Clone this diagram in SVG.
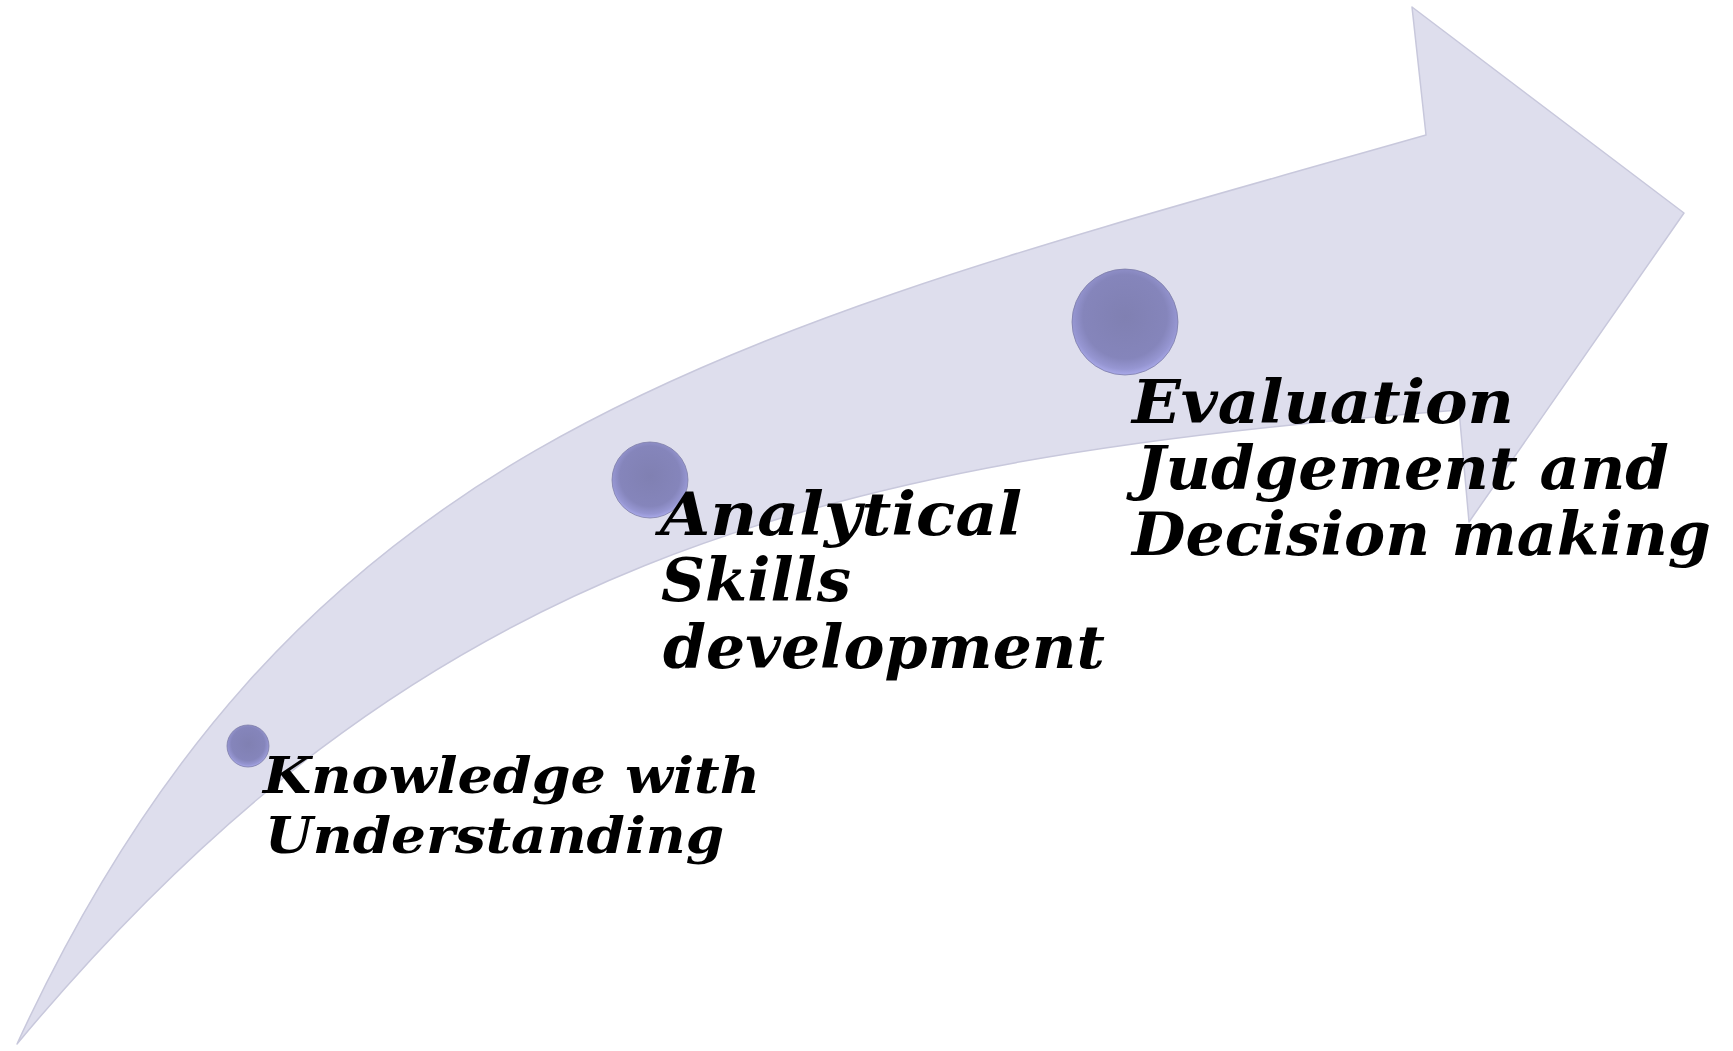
<svg xmlns="http://www.w3.org/2000/svg" width="1733" height="1051" viewBox="0 0 1733 1051">
<defs>
<radialGradient id="ball" cx="50%" cy="45%" r="55%">
<stop offset="0" stop-color="#8080b2"/>
<stop offset="0.72" stop-color="#8585bb"/>
<stop offset="0.9" stop-color="#9696d2"/>
<stop offset="1" stop-color="#aaaaea"/>
</radialGradient>
<style>
.band{fill:#dedeed;stroke:#c8c8dc;stroke-width:1.5;stroke-linejoin:round}
.ball{fill:url(#ball);stroke:#7a7aa4;stroke-width:1;stroke-opacity:0.75}
.lbl{font-family:Georgia,"DejaVu Serif",serif;font-weight:bold;font-style:italic;fill:#000}
.big{font-size:60px}
.small{font-size:50px}
</style>
</defs>
<rect width="1733" height="1051" fill="#ffffff"/>
<g id="connectors">
<path class="band" d="M17,1044 C300,430 726,334 1426,135 L1412,7 L1684,213 L1469,522 L1459,410 C809,460 417,564 17,1044 Z"/>
</g>
<g id="node-knowledge">
<circle class="ball" cx="248" cy="746" r="21"/>
<text class="lbl small"><tspan x="263" y="793" textLength="497" lengthAdjust="spacingAndGlyphs">Knowledge with</tspan><tspan x="265" y="853" textLength="459" lengthAdjust="spacingAndGlyphs">Understanding</tspan></text>
</g>
<g id="node-analytical">
<circle class="ball" cx="650" cy="480" r="38"/>
<text class="lbl big"><tspan x="660" y="535" textLength="362" lengthAdjust="spacingAndGlyphs">Analytical</tspan><tspan x="661" y="601" textLength="190" lengthAdjust="spacingAndGlyphs">Skills</tspan><tspan x="663" y="668" textLength="442" lengthAdjust="spacingAndGlyphs">development</tspan></text>
</g>
<g id="node-evaluation">
<circle class="ball" cx="1125" cy="322" r="53"/>
<text class="lbl big"><tspan x="1132" y="423" textLength="382" lengthAdjust="spacingAndGlyphs">Evaluation</tspan><tspan x="1136" y="489" textLength="533" lengthAdjust="spacingAndGlyphs">Judgement and</tspan><tspan x="1132" y="555" textLength="579" lengthAdjust="spacingAndGlyphs">Decision making</tspan></text>
</g>
</svg>
